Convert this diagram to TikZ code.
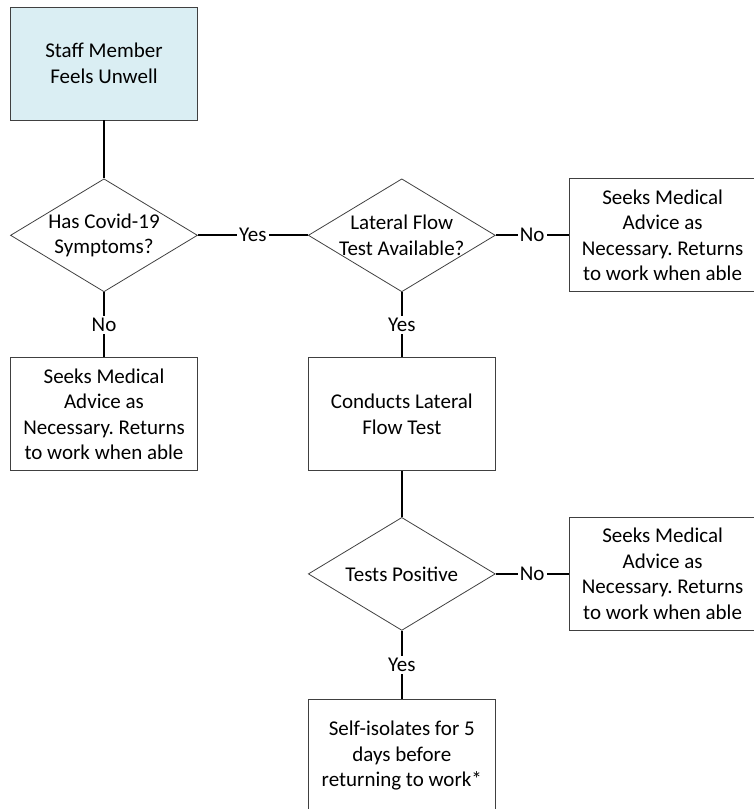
\documentclass[tikz,border=0pt]{standalone}
\usepackage{fontspec}
\setmainfont{Carlito}
\usepackage{xcolor}
\usepackage{tikz}
\definecolor{startblue}{RGB}{218,238,243}
\definecolor{boxgrey}{RGB}{64,64,64}
\usetikzlibrary{shapes,positioning}
\frenchspacing

\begin{document}
\begin{tikzpicture}[
    x=1pt, y=1pt,
    font=\fontsize{21}{25.5}\selectfont,
    process/.style={rectangle, draw=boxgrey, line width=0.8pt, align=center, minimum width=187pt, minimum height=113pt, inner sep=0pt},
    startbox/.style={process, fill=startblue},
    decision/.style={diamond, draw=boxgrey, line width=0.8pt, align=center, aspect=1.65, inner sep=-20pt, minimum width=187pt, minimum height=113pt},
    link/.style={line width=2pt},
    answer/.style={fill=white, inner sep=2pt}
]
\useasboundingbox (0,0) rectangle (754,-809);

% Start
\node[startbox] (unwell) at (104,-63.5) {Staff Member\\Feels Unwell};

% Decisions and actions
\node[decision, below=58pt of unwell] (symptoms) {Has Covid-19\\Symptoms?};
\node[decision, right=110pt of symptoms] (lftavail) {Lateral Flow\\Test Available?};
\node[process, right=73pt of lftavail] (advicea) {Seeks Medical\\Advice as\\Necessary. Returns\\to work when able};
\node[process, below=65pt of symptoms] (adviceb) {Seeks Medical\\Advice as\\Necessary. Returns\\to work when able};
\node[process, below=65pt of lftavail] (conduct) {Conducts Lateral\\Flow Test};
\node[decision, below=46pt of conduct] (positive) {Tests Positive};
\node[process, right=73pt of positive] (advicec) {Seeks Medical\\Advice as\\Necessary. Returns\\to work when able};
\node[process, below=68pt of positive] (isolate) {Self-isolates for 5\\days before\\returning to work*};

% Connectors
\draw[link] (unwell) -- (symptoms);
\draw[link] (symptoms) -- node[answer] {Yes} (lftavail);
\draw[link] (lftavail) -- node[answer] {No} (advicea);
\draw[link] (symptoms) -- node[answer] {No} (adviceb);
\draw[link] (lftavail) -- node[answer] {Yes} (conduct);
\draw[link] (conduct) -- (positive);
\draw[link] (positive) -- node[answer] {No} (advicec);
\draw[link] (positive) -- node[answer] {Yes} (isolate);

\end{tikzpicture}
\end{document}
